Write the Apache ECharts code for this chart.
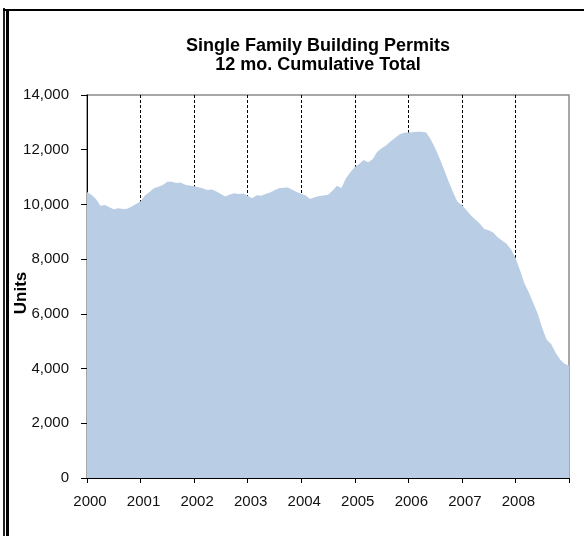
<!DOCTYPE html>
<html lang="en">
<head>
    <meta charset="UTF-8">
    <title>Single Family Building Permits</title>
    <style>
        html, body { margin: 0; padding: 0; background: #fff; }
        #main { width: 584px; height: 536px; }
    </style>
</head>
<body>
<div id="main"></div>
<script src="https://cdn.jsdelivr.net/npm/echarts@6/dist/echarts.min.js"></script>
<script>
    // monthly points, Jan 2000 .. Jan 2009
    const firstYear = 2000;
    const months = [];
    for (let i = 0; i < 109; i++) {
        const y = firstYear + Math.floor(i / 12);
        const m = (i % 12) + 1;
        months.push(y + '-' + (m < 10 ? '0' + m : m));
    }

    // 12 mo. cumulative total
    const permits = [
        10450, 10350, 10200, 9950, 9980, 9900, 9820, 9860, 9830, 9840, 9920, 10020,
        10120, 10330, 10450, 10590, 10650, 10710, 10830, 10830, 10780, 10800, 10720, 10690,
        10660, 10630, 10580, 10530, 10550, 10470, 10380, 10290, 10360, 10410, 10380, 10400,
        10320, 10230, 10340, 10320, 10380, 10440, 10520, 10590, 10610, 10620, 10540, 10450,
        10390, 10330, 10200, 10260, 10310, 10330, 10350, 10500, 10680, 10600, 10950, 11180,
        11370, 11480, 11620, 11540, 11650, 11920, 12050, 12150, 12300, 12430, 12560, 12620,
        12630, 12640, 12660, 12660, 12630, 12380, 12060, 11690, 11280, 10850, 10450, 10100,
        9980, 9800, 9600, 9450, 9300, 9100, 9060, 8970, 8800, 8680, 8560, 8360,
        8050, 7600, 7120, 6780, 6400, 6000, 5480, 5050, 4900, 4580, 4330, 4180,
        4100
    ];

    const chart = echarts.init(document.getElementById('main'));
    const font = '"Liberation Sans", Arial, sans-serif';
    const yearStep = 12;
    const lastIdx = months.length - 1;

    const option = {
        animation: false,
        backgroundColor: '#fff',
        title: {
            text: 'Single Family Building Permits\n12 mo. Cumulative Total',
            left: 313,
            top: 32,
            textAlign: 'center',
            textStyle: {
                fontFamily: font,
                fontSize: 18,
                fontWeight: 'bold',
                color: '#000',
                lineHeight: 19
            }
        },
        graphic: [
            { type: 'rect', shape: { x: 3, y: 8, width: 2, height: 528 }, style: { fill: '#222' } },
            { type: 'rect', shape: { x: 6, y: 9, width: 3, height: 527 }, style: { fill: '#000' } },
            { type: 'rect', shape: { x: 3, y: 9, width: 581, height: 2 }, style: { fill: '#000' } },
            {
                type: 'text',
                x: 21,
                y: 293,
                rotation: Math.PI / 2,
                style: {
                    text: 'Units',
                    fontFamily: font,
                    fontSize: 17,
                    fontWeight: 'bold',
                    fill: '#000',
                    align: 'center',
                    verticalAlign: 'middle'
                }
            }
        ],
        grid: {
            left: 87,
            right: 15,
            top: 95,
            bottom: 58,
            show: true,
            borderColor: '#8a8a8a',
            borderWidth: 1.5
        },
        xAxis: {
            type: 'category',
            data: months,
            boundaryGap: false,
            axisLine: { lineStyle: { color: '#000', width: 1 } },
            axisTick: {
                length: 5,
                interval: (i) => i % yearStep === 0,
                lineStyle: { color: '#000' }
            },
            axisLabel: {
                interval: (i) => i % yearStep === 0 && i < lastIdx,
                formatter: (v) => v.slice(0, 4),
                fontFamily: font,
                fontSize: 15,
                color: '#111',
                margin: 16,
                padding: [0, 0, 0, 6]
            },
            splitLine: {
                show: true,
                interval: (i) => i % yearStep === 0 && i > 0 && i < lastIdx,
                lineStyle: { color: '#000', width: 1, type: [3, 2] }
            }
        },
        yAxis: {
            type: 'value',
            min: 0,
            max: 14000,
            interval: 2000,
            axisLine: { show: true, lineStyle: { color: '#000', width: 1 } },
            axisTick: { show: true, length: 6, lineStyle: { color: '#000' } },
            axisLabel: {
                formatter: (v) => v.toLocaleString('en-US'),
                fontFamily: font,
                fontSize: 15,
                color: '#111',
                margin: 18
            },
            splitLine: { show: false }
        },
        series: [{
            type: 'line',
            data: permits,
            symbol: 'none',
            lineStyle: { width: 0 },
            areaStyle: { color: '#b9cde5', opacity: 1 }
        }]
    };

    chart.setOption(option);
</script>
</body>
</html>
